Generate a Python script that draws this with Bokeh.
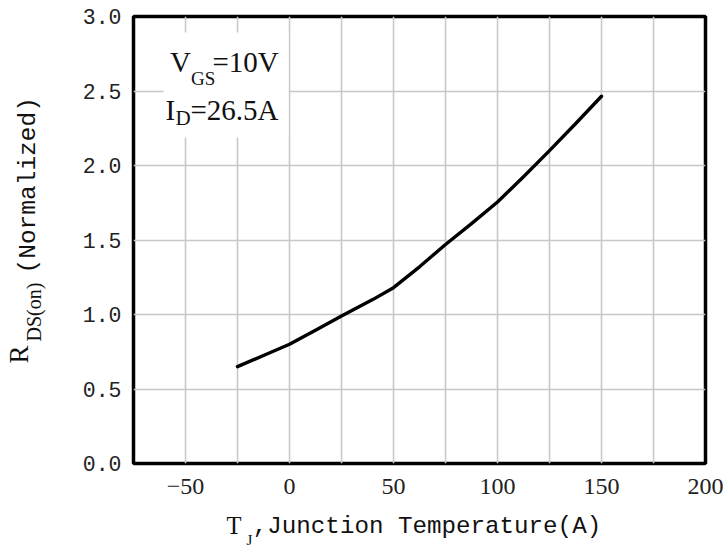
import math
from bokeh.plotting import figure
from bokeh.models import FixedTicker, Label, BoxAnnotation, Range1d
from bokeh.embed import file_html
from bokeh.resources import INLINE

# ---- data ----
temps = [-25, -12.5, 0, 12.5, 25, 40, 50, 62.5, 75, 87.5, 100, 112.5, 125, 137.5, 150]
rds_norm = [0.65, 0.725, 0.80, 0.895, 0.99, 1.10, 1.18, 1.32, 1.47, 1.61, 1.755, 1.925, 2.10, 2.28, 2.465]

x_ticks = [-50, 0, 50, 100, 150, 200]
x_tick_labels = ["\u221250", "0", "50", "100", "150", "200"]
x_grid = [-50, -25, 0, 25, 50, 75, 100, 125, 150, 175]
y_ticks = [0.0, 0.5, 1.0, 1.5, 2.0, 2.5, 3.0]
y_tick_labels = ["0.0", "0.5", "1.0", "1.5", "2.0", "2.5", "3.0"]
y_grid = [0.5, 1.0, 1.5, 2.0, 2.5]

X_START, X_END = -75, 200
Y_START, Y_END = 0, 3.0

W, H = 723, 550
FL, FR, FT, FB = 133, 705, 16, 463

p = figure(width=W, height=H, output_backend="svg", toolbar_location=None,
           x_range=Range1d(X_START, X_END), y_range=Range1d(Y_START, Y_END),
           min_border_left=FL, min_border_right=W - FR,
           min_border_top=FT, min_border_bottom=H - FB)
p.background_fill_color = "white"
p.border_fill_color = "white"
p.outline_line_color = "black"
p.outline_line_width = 3.5

# grid
p.xgrid.ticker = FixedTicker(ticks=x_grid)
p.ygrid.ticker = FixedTicker(ticks=y_grid)
for g in (p.xgrid, p.ygrid):
    g.grid_line_color = "#c8c8c8"
    g.grid_line_width = 1.6

# axes
p.xaxis.ticker = FixedTicker(ticks=x_ticks)
p.xaxis.major_label_overrides = {t: l for t, l in zip(x_ticks, x_tick_labels)}
p.yaxis.ticker = FixedTicker(ticks=y_ticks)
p.yaxis.major_label_overrides = {t: l for t, l in zip(y_ticks, y_tick_labels)}
for ax in (p.xaxis, p.yaxis):
    ax.axis_line_color = None
    ax.major_tick_line_color = None
    ax.minor_tick_line_color = None
    ax.major_label_text_color = "#222222"
p.xaxis.major_label_text_font = "Liberation Serif"
p.xaxis.major_label_text_font_size = "24px"
p.xaxis.major_label_standoff = 9
p.yaxis.major_label_text_font = "Liberation Mono"
p.yaxis.major_label_text_font_size = "21.5px"
p.yaxis.major_label_standoff = 6

# curve
p.line(temps, rds_norm, line_color="black", line_width=3.4, line_cap="round", line_join="round")


def dx(px):
    return X_START + (px - FL) * (X_END - X_START) / (FR - FL)


def dy(py):
    return Y_START + (FB - py) * (Y_END - Y_START) / (FB - FT)


# white box behind the condition text
p.add_layout(BoxAnnotation(left=dx(163), right=dx(288), top=dy(32), bottom=dy(137),
                           fill_color="white", fill_alpha=1.0, line_color=None))

BASE_SHIFT = 0.35  # renderer puts the baseline this many em lower than asked


def lab(px, py, text, font, size, rotated=False, place="center"):
    if rotated:
        px = px - BASE_SHIFT * size
        angle = math.pi / 2
    else:
        py = py - BASE_SHIFT * size
        angle = 0.0
    p.add_layout(Label(x=dx(px), y=dy(py), text=text, text_font=font,
                       text_font_size=f"{size}px", text_color="#111111",
                       text_align="left", text_baseline="alphabetic",
                       angle=angle), place)


SERIF = "Liberation Serif"
MONO = "Liberation Mono"

# condition text
lab(169.5, 72, "V", SERIF, 29)
lab(190.5, 85, "GS", SERIF, 19)
lab(212, 72, "=10V", SERIF, 29)
lab(165, 120, "I", SERIF, 29)
lab(175, 125, "D", SERIF, 21)
lab(190, 120, "=26.5A", SERIF, 29)

# x axis title
lab(226, 534, "T", SERIF, 24.5, place="below")
lab(252.3, 534, ",Junction Temperature(A)", MONO, 24.2, place="below")
lab(246, 545, "J", SERIF, 15, place="right")

# y axis title (rotated)
lab(28, 363, "R", SERIF, 27, rotated=True, place="left")
lab(40, 341, "DS(on)", SERIF, 20, rotated=True, place="left")
lab(37, 273, "(Normalized)", MONO, 24.5, rotated=True, place="left")

open("out.html", "w").write(file_html(p, INLINE))
